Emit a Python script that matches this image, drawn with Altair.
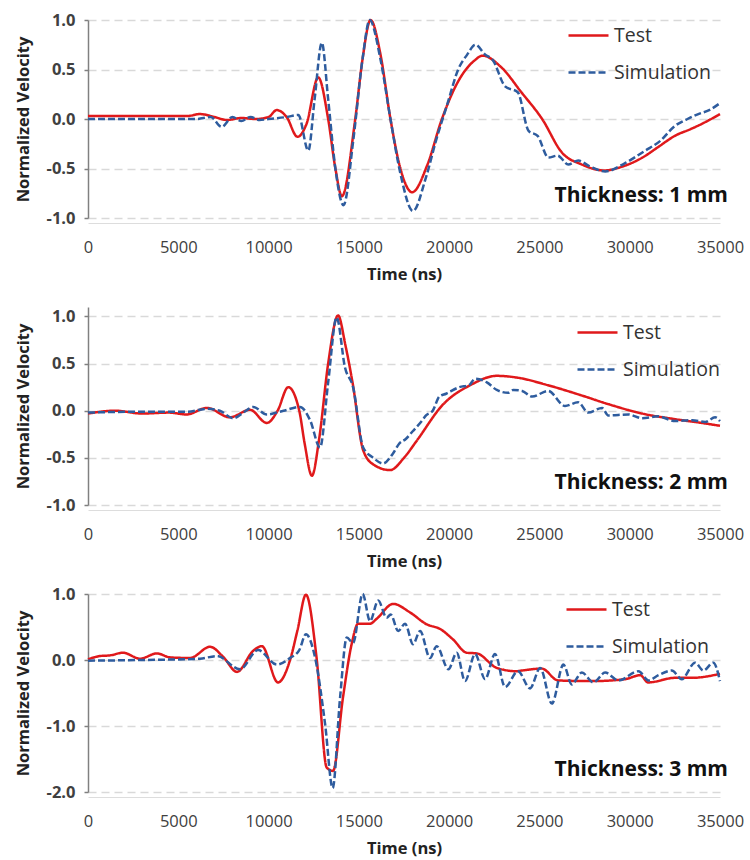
import altair as alt
import pandas as pd

# ---------------- data ----------------
series_names = ["Test", "Simulation"]
thickness_labels = ["Thickness: 1 mm", "Thickness: 2 mm", "Thickness: 3 mm"]
x_ticks = [0, 5000, 10000, 15000, 20000, 25000, 30000, 35000]

# Panel 1 (1 mm)
t1_test = [0, 2000, 4000, 5500, 6200, 7000, 7700, 8500, 9300, 10000, 10450, 11000, 11600, 12100, 12750,
           13300, 13700, 14060, 14800, 15200, 15650, 16200, 16750, 17300, 17950, 18800, 19600, 20500,
           21400, 21850, 22900, 24000, 25150, 26250, 27350, 28600, 29600, 30700, 31600, 32500, 33400,
           34200, 35000]
v1_test = [0.03, 0.03, 0.03, 0.03, 0.05, 0.02, -0.01, 0.01, 0.0, 0.02, 0.09, 0.02, -0.18, -0.05, 0.42,
           0.0, -0.5, -0.78, 0.0, 0.6, 1.0, 0.65, 0.0, -0.5, -0.74, -0.46, 0.0, 0.38,
           0.59, 0.64, 0.52, 0.27, 0.0, -0.34, -0.46, -0.52, -0.48, -0.39, -0.28, -0.17, -0.1,
           -0.03, 0.05]
t1_sim = [0, 3000, 6000, 6800, 7400, 8000, 8500, 9000, 9500, 10000, 11000, 11650, 12200, 12550, 12950,
          13300, 13700, 14150, 14700, 15200, 15600, 16200, 16750, 17300, 18000, 18700, 19300, 19900,
          20500, 21000, 21450, 22000, 22400, 23100, 23800, 24400, 24900, 25500, 26000, 26600, 27150,
          27800, 28650, 29700, 30850, 31700, 32500, 33200, 33800, 34400, 35000]
v1_sim = [0.0, 0.0, 0.0, 0.02, -0.08, 0.02, -0.02, 0.02, -0.01, 0.0, 0.02, 0.04, -0.32, 0.2, 0.77,
          0.2, -0.5, -0.87, -0.2, 0.6, 1.0, 0.6, 0.0, -0.55, -0.93, -0.6, -0.2, 0.15,
          0.5, 0.65, 0.75, 0.65, 0.6, 0.33, 0.27, -0.12, -0.17, -0.39, -0.37, -0.46, -0.42,
          -0.48, -0.53, -0.45, -0.32, -0.22, -0.07, 0.0, 0.05, 0.09, 0.16]

# Panel 2 (2 mm)
t2_test = [0, 1500, 3000, 4500, 5460, 6580, 7860, 8970, 9900, 10500, 11090, 11700, 12000, 12400, 12800,
           13300, 13850, 14250, 14650, 15240, 15800, 16730, 17500, 18200, 19680, 21160, 22640, 23800,
           25480, 27370, 28810, 30690, 32520, 34000, 35000]
v2_test = [-0.03, 0.0, -0.03, -0.02, -0.04, 0.03, -0.07, 0.01, -0.13, 0.0, 0.25, 0.0, -0.35, -0.69, -0.3,
           0.5, 1.01, 0.7, 0.3, -0.42, -0.57, -0.63, -0.5, -0.32, 0.07, 0.27, 0.37, 0.35,
           0.27, 0.16, 0.07, -0.03, -0.09, -0.13, -0.16]
t2_sim = [0, 3000, 5500, 6580, 7300, 8040, 8600, 9150, 9900, 10830, 11740, 12300, 12850, 13300, 13770,
          14230, 14680, 15240, 15800, 16340, 16900, 17230, 17600, 17970, 18440, 18720, 19090, 19460,
          19830, 20570, 21100, 21440, 22090, 22640, 23270, 23550, 24040, 24600, 25480, 26420, 27140,
          27700, 28470, 28810, 29920, 30690, 31580, 32520, 33460, 34180, 34730, 35000]
v2_sim = [-0.02, -0.01, -0.01, 0.02, 0.0, -0.08, -0.02, 0.04, -0.04, 0.0, 0.04, -0.1, -0.39, 0.3, 0.99,
          0.46, 0.25, -0.39, -0.5, -0.56, -0.45, -0.35, -0.3, -0.22, -0.12, -0.05, 0.0, 0.15,
          0.18, 0.25, 0.27, 0.34, 0.3, 0.22, 0.19, 0.22, 0.21, 0.15, 0.21, 0.05, 0.09,
          -0.02, 0.03, -0.05, -0.04, -0.08, -0.06, -0.11, -0.1, -0.12, -0.07, -0.11]

# Panel 3 (3 mm)
t3_test = [0, 665, 1220, 1940, 2880, 3820, 4540, 5650, 6760, 7480, 8250, 9150, 9630, 10520, 11190,
           11600, 12070, 12660, 13220, 13570, 14120, 14600, 14960, 15620, 15970, 16900, 17840, 18760,
           19500, 20220, 20970, 21530, 22640, 23740, 24020, 25130, 26030, 27900, 29750, 30580, 31020,
           32520, 33440, 35000]
v3_test = [0.01, 0.06, 0.07, 0.11, 0.02, 0.1, 0.04, 0.03, 0.2, 0.05, -0.18, 0.14, 0.21, -0.34, 0.0,
           0.45, 0.99, 0.03, -1.63, -1.68, -0.57, 0.24, 0.55, 0.55, 0.62, 0.85, 0.72, 0.54,
           0.47, 0.31, 0.11, 0.1, -0.12, -0.17, -0.16, -0.13, -0.31, -0.32, -0.29, -0.23, -0.34,
           -0.27, -0.27, -0.21]
t3_sim = [0, 3000, 6200, 7140, 8420, 9420, 10460, 11190, 11700, 12070, 12580, 13130, 13550, 13960, 14330,
          14680, 15210, 15620, 16070, 16540, 16760, 17180, 17560, 18000, 18390, 18940, 19310, 19960,
          20420, 20880, 21440, 21990, 22540, 23100, 23810, 24480, 25040, 25690, 26330, 26790, 27350,
          27990, 28640, 29380, 30490, 31040, 31590, 32330, 32880, 33620, 34080, 34630, 35000]
v3_sim = [-0.01, 0.0, 0.02, 0.06, -0.14, 0.15, -0.07, 0.03, 0.15, 0.39, 0.03, -0.97, -1.94, -0.57, 0.34,
          0.26, 1.0, 0.59, 0.9, 0.64, 0.69, 0.44, 0.55, 0.24, 0.44, 0.03, 0.21, -0.14,
          0.11, -0.32, 0.09, -0.29, 0.09, -0.41, -0.17, -0.43, -0.12, -0.66, -0.07, -0.37, -0.19,
          -0.34, -0.19, -0.31, -0.17, -0.31, -0.23, -0.16, -0.29, -0.04, -0.16, -0.04, -0.32]

# ---------------- styling ----------------
RED = "#E0191B"
BLUE = "#2E5C9E"
FONT = "Open Sans"
PLOT_W = 632
PLOT_H = 198

neg_label = "datum.value < 0 ? '-' + format(abs(datum.value), '.1f') : format(datum.value, '.1f')"


def make_panel(t_test, v_test, t_sim, v_sim, label, y_dom, y_ticks, lx, ly):
    df = pd.DataFrame({
        "t": list(t_test) + list(t_sim),
        "v": list(v_test) + list(v_sim),
        "series": [series_names[0]] * len(t_test) + [series_names[1]] * len(t_sim),
    })
    leg = alt.Legend(orient="none", legendX=lx, legendY=ly, title=None, symbolType="stroke",
                     symbolSize=1600, symbolStrokeWidth=2.5, labelFontSize=19.5, labelFont=FONT,
                     labelColor="#333333", clipHeight=37, rowPadding=0, labelOffset=4, padding=0)
    x = alt.X("t:Q", scale=alt.Scale(domain=[0, 35000], nice=False, zero=False),
              axis=alt.Axis(values=x_ticks, format="d", title="Time (ns)", grid=False, ticks=False,
                            domain=True, domainColor="#dddddd", domainWidth=1, offset=5,
                            labelFlush=False, labelOverlap=False,
                            labelPadding=16, labelFontSize=16.5, labelColor="#404040",
                            titlePadding=11, titleFontSize=16.5, titleFontWeight="bold",
                            titleColor="#222222"))
    y = alt.Y("v:Q", scale=alt.Scale(domain=y_dom, nice=False, zero=False),
              axis=alt.Axis(values=y_ticks, labelExpr=neg_label, title="Normalized Velocity",
                            grid=True, gridDash=[8, 5], gridColor="#d9d9d9", gridWidth=1.5,
                            domainColor="#808080", domainWidth=1.5, tickColor="#808080",
                            tickSize=4, tickWidth=1.5, labelPadding=9, labelFontSize=16.5,
                            labelFontWeight="bold", labelColor="#404040", titlePadding=15,
                            titleFontSize=16.5, titleFontWeight="bold", titleColor="#222222"))
    color = alt.Color("series:N", scale=alt.Scale(domain=series_names, range=[RED, BLUE]), legend=leg)
    dash = alt.StrokeDash("series:N", scale=alt.Scale(domain=series_names, range=[[1, 0], [7, 3]]),
                          legend=leg)
    base = alt.Chart(df)
    test_line = base.transform_filter(alt.datum.series == series_names[0]).mark_line(
        interpolate="monotone", strokeWidth=2.5).encode(x=x, y=y, color=color, strokeDash=dash)
    sim_line = base.transform_filter(alt.datum.series == series_names[1]).mark_line(
        interpolate="monotone", strokeWidth=2.5).encode(x=x, y=y, color=color, strokeDash=dash)
    txt = alt.Chart(pd.DataFrame({"label": [label]})).mark_text(
        align="right", baseline="middle", fontSize=21, fontWeight="bold", font=FONT, color="#111111"
    ).encode(text="label:N", x=alt.value(640), y=alt.value(176))
    return alt.layer(test_line, sim_line, txt).properties(width=PLOT_W, height=PLOT_H)


p1 = make_panel(t1_test, v1_test, t1_sim, v1_sim, thickness_labels[0], [-1, 1],
                [-1, -0.5, 0, 0.5, 1], 479, -3)
p2 = make_panel(t2_test, v2_test, t2_sim, v2_sim, thickness_labels[1], [-1, 1.1],
                [-1, -0.5, 0, 0.5, 1], 488, 7)
p3 = make_panel(t3_test, v3_test, t3_sim, v3_sim, thickness_labels[2], [-2, 1],
                [-2, -1, 0, 1], 477, -3)

chart = alt.vconcat(p1, p2, p3, spacing=89, bounds="flush").resolve_scale(
    color="independent", strokeDash="independent"
).resolve_legend(color="independent", strokeDash="independent").properties(
    padding={"left": 15, "top": 12, "right": 5, "bottom": 5}, background="white"
).configure_view(stroke=None).configure_axis(labelFont=FONT, titleFont=FONT)

chart.save("out.html", embed_options={"renderer": "svg", "actions": False})
